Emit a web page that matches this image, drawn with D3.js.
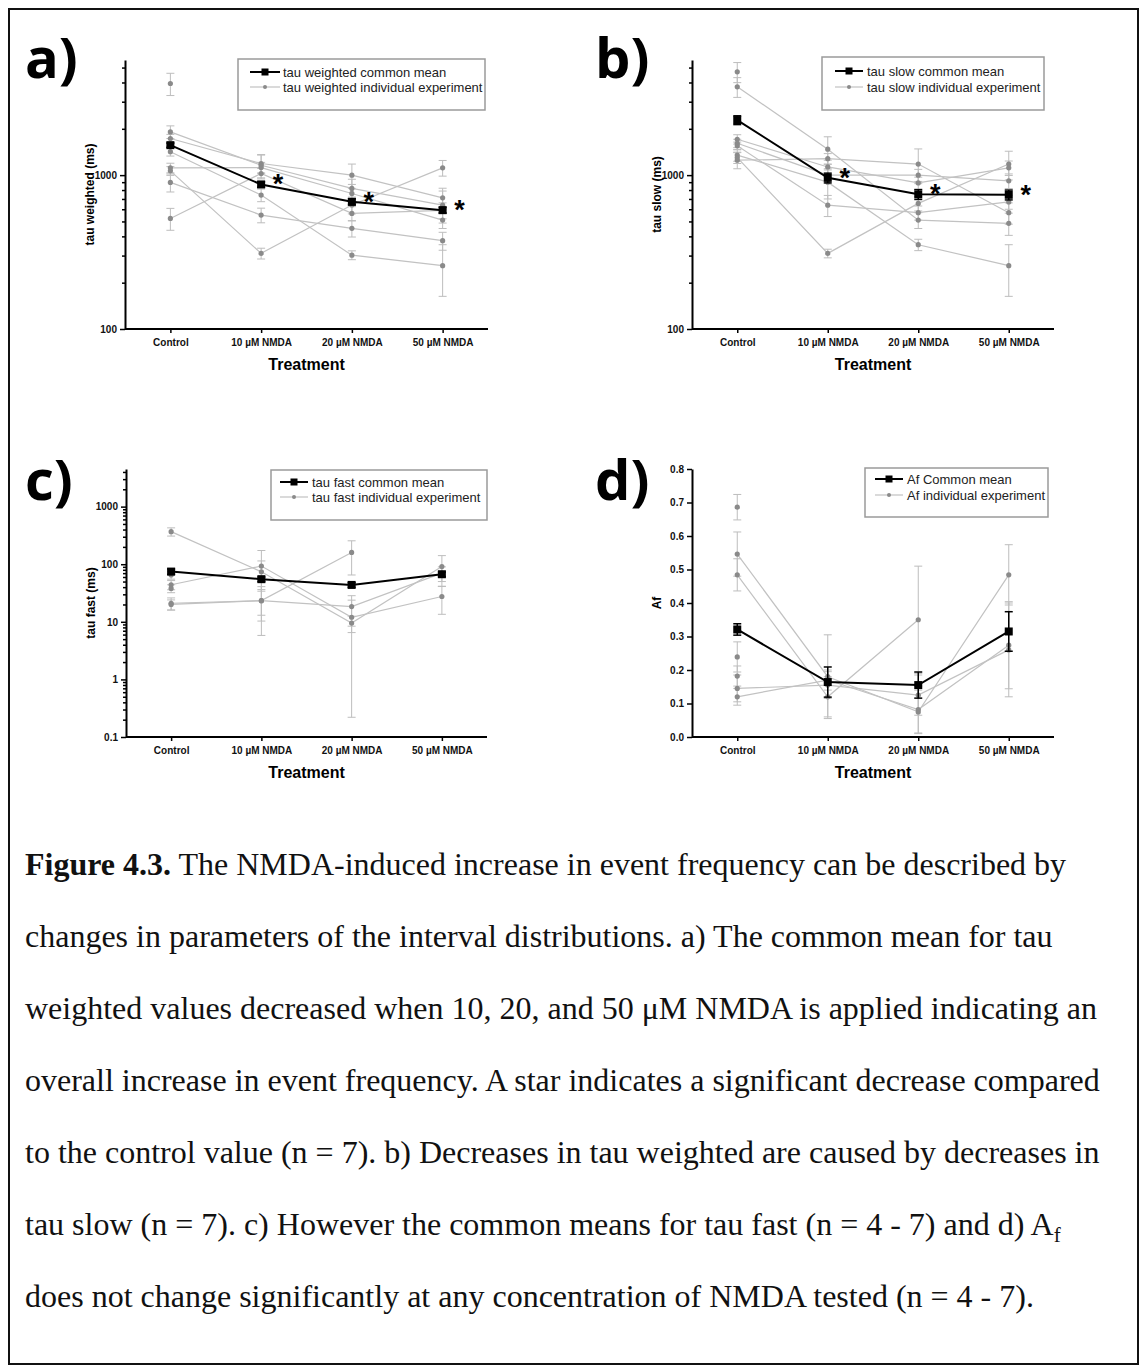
<!DOCTYPE html>
<html>
<head>
<meta charset="utf-8">
<script src="https://cdn.jsdelivr.net/npm/d3@7"></script>
<style>
  body { margin: 0; background: #fff; }
  svg { display: block; }
</style>
</head>
<body>
<svg id="chart"></svg>
<script>
const treatments = ["Control", "10 µM NMDA", "20 µM NMDA", "50 µM NMDA"];

// a) tau weighted (ms)
const weightedMean = [1566, 870, 671, 592];
const weightedMeanErr = [50, 35, 30, 25];
const weightedSig = [false, true, true, true];
const weightedIndiv = [
  [1910, 1160, 820, 638],
  [1730, 1190, 1000, 712],
  [1420, 742, 302, 258],
  [1115, 1120, 760, 510],
  [1066, 310, 640, 1115],
  [897, 550, 451, 375],
  [523, 1025, 564, 590],
  [3940, null, null, null]
];
const weightedIndivErr = [
  [180, 200, 120, 150],
  [110, 160, 180, 110],
  [90, 70, 20, 95],
  [80, 90, 110, 60],
  [70, 25, 80, 130],
  [120, 60, 55, 50],
  [85, 80, 60, 70],
  [650, null, null, null]
];

// b) tau slow (ms)
const slowMean = [2280, 960, 750, 745];
const slowMeanErr = [150, 70, 55, 55];
const slowSig = [false, true, true, true];
const slowIndiv = [
  [3750, 1475, 510, 486],
  [1250, 1280, 1180, 570],
  [1710, 1130, 890, 1115],
  [1610, 1000, 1000, 918],
  [1350, 900, 353, 258],
  [1550, 638, 570, 670],
  [1300, 310, 655, 1180],
  [4690, null, null, null]
];
const slowIndivErr = [
  [550, 300, 60, 80],
  [150, 100, 300, 90],
  [120, 120, 80, 120],
  [100, 80, 90, 100],
  [120, 200, 30, 95],
  [90, 100, 60, 70],
  [110, 20, 70, 250],
  [700, null, null, null]
];

// c) tau fast (ms)
const fastMean = [74.5, 55, 43.7, 67];
const fastMeanErr = [8, 5, 4, 6];
const fastIndiv = [
  [368, 74, 9.5, 91],
  [44, 93, 12, 27.5],
  [21, 23.3, 160, null],
  [20, 23.3, 18.4, 70],
  [65, null, null, null],
  [38, null, null, null]
];
const fastIndivErr = [
  [60, 40, 3, 50],
  [8, 80, 11.78, 14],
  [5, 17.5, 95, null],
  [4, 13, 10, 20],
  [10, null, null, null],
  [6, null, null, null]
];

// d) Af
const afMean = [0.321, 0.164, 0.155, 0.315];
const afMeanErr = [0.017, 0.045, 0.039, 0.059];
const afIndiv = [
  [0.546, 0.18, 0.075, 0.484],
  [0.484, 0.12, 0.35, null],
  [0.145, 0.155, 0.125, 0.26],
  [0.12, 0.17, 0.082, 0.274],
  [0.686, null, null, null],
  [0.239, null, null, null],
  [0.182, null, null, null]
];
const afIndivErr = [
  [0.066, 0.125, 0.065, 0.09],
  [0.048, 0.06, 0.16, null],
  [0.04, 0.04, 0.06, 0.14],
  [0.025, 0.03, 0.07, 0.13],
  [0.038, null, null, null],
  [0.045, null, null, null],
  [0.03, null, null, null]
];

const captionLines = [
  [["Figure 4.3.", "b"], [" The NMDA-induced increase in event frequency can be described by", ""]],
  [["changes in parameters of the interval distributions. a) The common mean for tau", ""]],
  [["weighted values decreased when 10, 20, and 50 μM NMDA is applied indicating an", ""]],
  [["overall increase in event frequency. A star indicates a significant decrease compared", ""]],
  [["to the control value (n = 7). b) Decreases in tau weighted are caused by decreases in", ""]],
  [["tau slow (n = 7). c) However the common means for tau fast (n = 4 - 7) and d) A", ""], ["f", "sub"]],
  [["does not change significantly at any concentration of NMDA tested (n = 4 - 7).", ""]]
];

const svg = d3.select('#chart').attr('width', 1141).attr('height', 1372);

svg.append('rect')
  .attr('x', 9).attr('y', 9)
  .attr('width', 1129).attr('height', 1355)
  .attr('fill', 'none').attr('stroke', '#111').attr('stroke-width', 2);

class Panel {

  constructor(_config, _data) {
    this.config = _config;
    this.data = _data;
    this.initVis();
  }

  initVis() {
    let vis = this;
    let c = vis.config;

    vis.x = d3.scalePoint()
      .domain(treatments)
      .range([c.left, c.right])
      .padding(0.5);

    vis.y = c.log
      ? d3.scaleLog().domain(c.domain).range([c.bottom, c.top])
      : d3.scaleLinear().domain(c.domain).range([c.bottom, c.top]);

    vis.g = svg.append('g');

    // panel letter
    vis.g.append('text')
      .attr('x', c.letterX).attr('y', c.letterY)
      .attr('font-family', 'Open Sans, sans-serif')
      .attr('font-weight', 700)
      .attr('font-size', 56)
      .text(c.letter);

    // axes
    let majors, fmt;
    if (c.log) {
      let all = vis.y.ticks();
      let isMajor = t => Math.abs(Math.log10(t) - Math.round(Math.log10(t))) < 1e-6;
      majors = all.filter(isMajor);
      let minors = all.filter(t => !isMajor(t));
      fmt = t => String(+t.toPrecision(6));
      vis.g.append('g')
        .attr('transform', `translate(${c.left},0)`)
        .call(d3.axisLeft(vis.y).tickValues(minors).tickFormat('').tickSize(3).tickSizeOuter(0))
        .call(g => g.select('.domain').remove())
        .call(g => g.selectAll('line').attr('stroke-width', 1.5));
    } else {
      majors = d3.range(0, 9).map(i => i / 10);
      fmt = d3.format('.1f');
    }

    vis.g.append('g')
      .attr('transform', `translate(${c.left},0)`)
      .call(d3.axisLeft(vis.y).tickValues(majors).tickFormat(fmt).tickSize(5).tickPadding(3).tickSizeOuter(0))
      .call(g => g.select('.domain').attr('stroke-width', 2))
      .call(g => g.selectAll('line').attr('stroke-width', 1.5))
      .call(g => g.selectAll('text').attr('font-family', 'Liberation Sans, Arial, sans-serif')
        .attr('font-weight', 700).attr('font-size', 10).attr('fill', '#111'));

    vis.g.append('g')
      .attr('transform', `translate(0,${c.bottom})`)
      .call(d3.axisBottom(vis.x).tickSize(4).tickPadding(6).tickSizeOuter(0))
      .call(g => g.select('.domain').attr('d', `M${c.left},0H${c.right}`).attr('stroke-width', 2))
      .call(g => g.selectAll('line').attr('stroke-width', 1.5))
      .call(g => g.selectAll('text').attr('font-family', 'Liberation Sans, Arial, sans-serif')
        .attr('font-weight', 700).attr('font-size', 10).attr('fill', '#111'));

    // axis titles
    vis.g.append('text')
      .attr('x', (c.left + c.right) / 2).attr('y', c.bottom + 41)
      .attr('text-anchor', 'middle')
      .attr('font-family', 'Liberation Sans, Arial, sans-serif')
      .attr('font-weight', 700).attr('font-size', 16)
      .text('Treatment');

    vis.g.append('text')
      .attr('transform', `translate(${c.left - 31},${(c.top + c.bottom) / 2}) rotate(-90)`)
      .attr('text-anchor', 'middle')
      .attr('font-family', 'Liberation Sans, Arial, sans-serif')
      .attr('font-weight', 700).attr('font-size', 12)
      .text(c.yTitle);

    vis.renderVis();
  }

  renderVis() {
    let vis = this;
    let c = vis.config;
    let d = vis.data;
    let yMin = c.domain[0];

    let clampLo = v => Math.max(v, yMin);

    let errBar = (g, cx, v, e, color, w, sw) => {
      let y0 = vis.y(clampLo(v - e)), y1 = vis.y(v + e);
      g.append('line').attr('x1', cx).attr('x2', cx).attr('y1', y0).attr('y2', y1)
        .attr('stroke', color).attr('stroke-width', sw);
      [y0, y1].forEach(yy => {
        g.append('line').attr('x1', cx - w).attr('x2', cx + w).attr('y1', yy).attr('y2', yy)
          .attr('stroke', color).attr('stroke-width', sw);
      });
    };

    let line = d3.line()
      .defined(p => p.v != null)
      .x(p => vis.x(p.t))
      .y(p => vis.y(p.v));

    // individual experiments
    let indivG = vis.g.append('g');
    d.indiv.forEach((series, si) => {
      let pts = series.map((v, i) => ({ t: treatments[i], v: v, e: d.indivErr[si][i] }));
      pts.filter(p => p.v != null).forEach(p => errBar(indivG, vis.x(p.t), p.v, p.e, '#bdbdbd', 4, 1));
    });
    d.indiv.forEach((series, si) => {
      let pts = series.map((v, i) => ({ t: treatments[i], v: v }));
      indivG.append('path')
        .attr('d', line(pts))
        .attr('fill', 'none')
        .attr('stroke', '#c2c2c2')
        .attr('stroke-width', 1.2);
    });
    d.indiv.forEach(series => {
      series.forEach((v, i) => {
        if (v == null) return;
        indivG.append('circle')
          .attr('cx', vis.x(treatments[i])).attr('cy', vis.y(v))
          .attr('r', 2.6).attr('fill', '#8a8a8a');
      });
    });

    // common mean
    let meanG = vis.g.append('g');
    let meanPts = d.mean.map((v, i) => ({ t: treatments[i], v: v, e: d.meanErr[i] }));
    meanPts.forEach(p => errBar(meanG, vis.x(p.t), p.v, p.e, '#000', 4, 1.5));
    meanG.append('path')
      .attr('d', line(meanPts))
      .attr('fill', 'none').attr('stroke', '#000').attr('stroke-width', 2);
    meanG.selectAll('rect.mean')
      .data(meanPts)
      .join('rect')
        .attr('class', 'mean')
        .attr('x', p => vis.x(p.t) - 4).attr('y', p => vis.y(p.v) - 4)
        .attr('width', 8).attr('height', 8)
        .attr('fill', '#000');

    // significance stars
    if (d.sig) {
      meanG.selectAll('text.star')
        .data(meanPts.filter((p, i) => d.sig[i]))
        .join('text')
          .attr('class', 'star')
          .attr('x', p => vis.x(p.t) + 17)
          .attr('y', p => vis.y(p.v) + 9)
          .attr('text-anchor', 'middle')
          .attr('font-family', 'Liberation Sans, Arial, sans-serif')
          .attr('font-weight', 700).attr('font-size', 27)
          .text('*');
    }

    // legend
    let L = c.legend;
    let lg = vis.g.append('g');
    lg.append('rect')
      .attr('x', L.x).attr('y', L.y).attr('width', L.w).attr('height', L.h)
      .attr('fill', '#fff').attr('stroke', '#9a9a9a').attr('stroke-width', 1.5);
    let mid = (L.x0 + L.x1) / 2;
    lg.append('line').attr('x1', L.x0).attr('x2', L.x1).attr('y1', L.rows[0]).attr('y2', L.rows[0])
      .attr('stroke', '#000').attr('stroke-width', 2);
    lg.append('rect').attr('x', mid - 3.5).attr('y', L.rows[0] - 3.5).attr('width', 7).attr('height', 7).attr('fill', '#000');
    lg.append('line').attr('x1', L.x0).attr('x2', L.x1).attr('y1', L.rows[1]).attr('y2', L.rows[1])
      .attr('stroke', '#c2c2c2').attr('stroke-width', 1.2);
    lg.append('circle').attr('cx', mid).attr('cy', L.rows[1]).attr('r', 2).attr('fill', '#8a8a8a');
    lg.selectAll('text')
      .data(d.legendLabels)
      .join('text')
        .attr('x', L.tx)
        .attr('y', (t, i) => L.rows[i] + 4.5)
        .attr('font-family', 'Liberation Sans, Arial, sans-serif')
        .attr('font-size', 13)
        .attr('fill', '#222')
        .text(t => t);
  }
}

new Panel({
  letter: 'a)', letterX: 25, letterY: 78,
  left: 125, right: 488, top: 60, bottom: 329,
  log: true, domain: [100, 5600], yTitle: 'tau weighted (ms)',
  legend: { x: 238, y: 59, w: 247, h: 51, x0: 250, x1: 280, tx: 283, rows: [72, 87] }
}, {
  mean: weightedMean, meanErr: weightedMeanErr, sig: weightedSig,
  indiv: weightedIndiv, indivErr: weightedIndivErr,
  legendLabels: ['tau weighted common mean', 'tau weighted individual experiment']
});

new Panel({
  letter: 'b)', letterX: 595, letterY: 78,
  left: 692, right: 1054, top: 60, bottom: 329,
  log: true, domain: [100, 5600], yTitle: 'tau slow (ms)',
  legend: { x: 822, y: 57, w: 222, h: 53, x0: 835, x1: 863, tx: 867, rows: [71, 87] }
}, {
  mean: slowMean, meanErr: slowMeanErr, sig: slowSig,
  indiv: slowIndiv, indivErr: slowIndivErr,
  legendLabels: ['tau slow common mean', 'tau slow individual experiment']
});

new Panel({
  letter: 'c)', letterX: 25, letterY: 500,
  left: 126, right: 487, top: 469, bottom: 737,
  log: true, domain: [0.1, 4500], yTitle: 'tau fast (ms)',
  legend: { x: 271, y: 470, w: 216, h: 50, x0: 280, x1: 308, tx: 312, rows: [482, 497] }
}, {
  mean: fastMean, meanErr: fastMeanErr, sig: null,
  indiv: fastIndiv, indivErr: fastIndivErr,
  legendLabels: ['tau fast common mean', 'tau fast individual experiment']
});

new Panel({
  letter: 'd)', letterX: 595, letterY: 500,
  left: 692, right: 1054, top: 469, bottom: 737,
  log: false, domain: [0, 0.8], yTitle: 'Af',
  legend: { x: 865, y: 468, w: 183, h: 49, x0: 875, x1: 903, tx: 907, rows: [479, 495] }
}, {
  mean: afMean, meanErr: afMeanErr, sig: null,
  indiv: afIndiv, indivErr: afIndivErr,
  legendLabels: ['Af Common mean', 'Af individual experiment']
});

// caption
let cap = svg.append('g')
  .attr('font-family', 'Liberation Serif, Times New Roman, serif')
  .attr('font-size', 32)
  .attr('fill', '#111');

captionLines.forEach((segs, i) => {
  let t = cap.append('text')
    .attr('x', 25)
    .attr('y', 875 + i * 72);
  segs.forEach(s => {
    let ts = t.append('tspan').text(s[0]);
    if (s[1] === 'b') ts.attr('font-weight', 700);
    if (s[1] === 'sub') ts.attr('font-size', 21).attr('dy', 7);
  });
});
</script>
</body>
</html>
